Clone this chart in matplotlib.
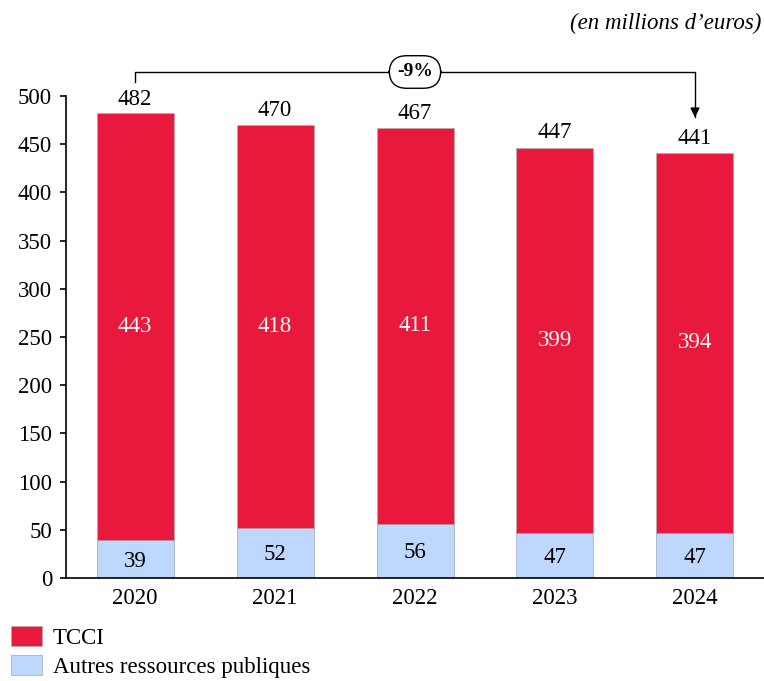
import matplotlib
matplotlib.use("Agg")
import matplotlib.pyplot as plt
import numpy as np

years = ['2020', '2021', '2022', '2023', '2024']
autres = [39, 52, 56, 47, 47]
tcci = [443, 418, 411, 399, 394]
totals = [482, 470, 467, 447, 441]

red = '#E8193C'
blue = '#BDD8FC'

plt.rcParams['font.family'] = ['Liberation Serif', 'DejaVu Serif']

fig = plt.figure(figsize=(7.64, 6.81), dpi=100)
ax = fig.add_axes([0.0864, 0.1513, 0.9136, 0.7076])

x = np.arange(len(years))
w = 0.55
fs = 16.5
ax.bar(x, autres, w, color=blue, edgecolor='#A8B4C4', linewidth=0.6,
       label='Autres ressources publiques')
ax.bar(x, tcci, w, bottom=autres, color=red, edgecolor='#B0B0B0', linewidth=0.4,
       label='TCCI')

for i in range(len(years)):
    ax.text(x[i], autres[i] / 2 - 2, str(autres[i]), ha='center', va='center',
            fontsize=fs, color='black')
    ax.text(x[i], autres[i] + tcci[i] / 2, str(tcci[i]), ha='center', va='center',
            fontsize=fs, color='white')
    ax.text(x[i], totals[i] + 4, str(totals[i]), ha='center', va='bottom',
            fontsize=fs, color='black')

ax.set_xlim(-0.493, 4.493)
ax.set_ylim(0, 500)
ax.set_yticks(np.arange(0, 501, 50))
ax.set_xticks(x)
ax.set_xticklabels(years)
ax.tick_params(axis='y', labelsize=fs, length=4, width=1.2, pad=6)
ax.tick_params(axis='x', labelsize=fs, length=0, pad=7)
for s in ['top', 'right']:
    ax.spines[s].set_visible(False)
ax.spines['left'].set_linewidth(1.2)
ax.spines['bottom'].set_linewidth(1.2)

# bracket -9%
ytop = 525
ax.plot([0, 0, 4, 4], [514.5, ytop, ytop, 478], color='black', lw=1.0,
        clip_on=False)
ax.annotate('', xy=(4, 475), xytext=(4, 490),
            arrowprops=dict(arrowstyle='-|>', color='black', lw=1.0,
                            mutation_scale=14), annotation_clip=False)
ax.text(2, ytop, '-9%', ha='center', va='center', fontsize=14,
        fontweight='bold',
        bbox=dict(boxstyle='round,pad=0.4,rounding_size=0.9', fc='white',
                  ec='black', lw=1.0))

fig.text(0.997, 0.966, "(en millions d\u2019euros)", ha='right', va='center',
         fontsize=fs, style='italic')

h, l = ax.get_legend_handles_labels()
fig.legend(h[::-1], l[::-1], loc='lower left', bbox_to_anchor=(-0.003, -0.016),
           frameon=False, fontsize=fs, handlelength=1.35, handleheight=0.95,
           handletextpad=0.45, labelspacing=0.3, borderaxespad=0.2)

fig.savefig('out.png', dpi=100)
